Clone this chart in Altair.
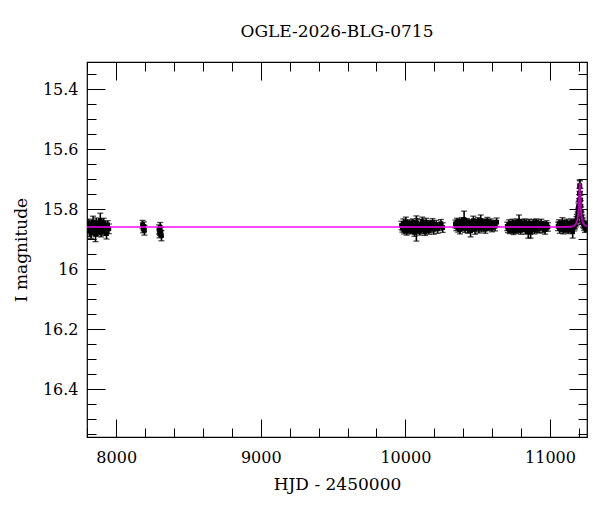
import altair as alt
import pandas as pd

# ---- photometry, one list per observing season (HJD-2450000, I mag, error) ----
S1_T = [7806, 7811, 7815, 7820, 7826, 7831, 7835, 7840, 7846, 7851, 7857, 7862, 7868,
        7873, 7879, 7884, 7890, 7896, 7901, 7907, 7913, 7919, 7926, 7933, 7941, 7949]
S1_M = [15.862, 15.848, 15.874, 15.858, 15.881, 15.852, 15.866, 15.843, 15.870, 15.857,
        15.885, 15.846, 15.864, 15.875, 15.851, 15.868, 15.838, 15.878, 15.856, 15.869,
        15.847, 15.873, 15.860, 15.882, 15.853, 15.866]
S1_E = [0.016, 0.014, 0.018, 0.015, 0.017, 0.013, 0.016, 0.019, 0.015, 0.014, 0.024, 0.016,
        0.018, 0.015, 0.014, 0.016, 0.024, 0.015, 0.018, 0.014, 0.016, 0.015, 0.017, 0.018,
        0.014, 0.016]

S2_T = [8182, 8187, 8191, 8195]
S2_M = [15.852, 15.866, 15.858, 15.871]
S2_E = [0.014, 0.013, 0.015, 0.016]

S3_T = [8296, 8300, 8304, 8309, 8313]
S3_M = [15.868, 15.882, 15.861, 15.876, 15.889]
S3_E = [0.015, 0.014, 0.016, 0.015, 0.017]

S4_T = [9973, 9979, 9986, 9991, 9998, 10003, 10009, 10016, 10021, 10027,
        10034, 10039, 10045, 10052, 10057, 10063, 10070, 10076, 10081, 10088,
        10094, 10099, 10106, 10112, 10117, 10124, 10130, 10136, 10143, 10149,
        10155, 10162, 10168, 10175, 10181, 10188, 10196, 10204, 10213, 10223,
        10234, 10246, 10258]
S4_M = [15.855, 15.864, 15.848, 15.871, 15.859, 15.843, 15.874, 15.856, 15.866, 15.850,
        15.870, 15.858, 15.867, 15.845, 15.861, 15.878, 15.853, 15.865, 15.847, 15.869,
        15.857, 15.873, 15.851, 15.863, 15.842, 15.868, 15.859, 15.875, 15.846, 15.865,
        15.854, 15.871, 15.852, 15.863, 15.857, 15.845, 15.868, 15.860, 15.852, 15.866,
        15.858, 15.849, 15.862]
S4_E = [0.014, 0.013, 0.015, 0.012, 0.014, 0.016, 0.013, 0.015, 0.012, 0.014,
        0.013, 0.016, 0.014, 0.012, 0.015, 0.013, 0.014, 0.042, 0.015, 0.013,
        0.012, 0.014, 0.016, 0.013, 0.015, 0.014, 0.012, 0.013, 0.015, 0.014,
        0.016, 0.013, 0.012, 0.015, 0.014, 0.013, 0.016, 0.012, 0.014, 0.015,
        0.013, 0.014, 0.016]

S5_T = [10346, 10352, 10358, 10365, 10371, 10377, 10383, 10390, 10396, 10402,
        10406, 10413, 10419, 10425, 10432, 10438, 10444, 10451, 10457, 10463,
        10470, 10476, 10482, 10489, 10495, 10501, 10508, 10514, 10521, 10527,
        10534, 10540, 10547, 10553, 10560, 10567, 10574, 10582, 10590, 10599,
        10609, 10620, 10631]
S5_M = [15.850, 15.858, 15.843, 15.862, 15.847, 15.869, 15.853, 15.841, 15.860, 15.849,
        15.835, 15.864, 15.852, 15.844, 15.866, 15.855, 15.848, 15.872, 15.851, 15.861,
        15.839, 15.856, 15.868, 15.846, 15.859, 15.842, 15.865, 15.853, 15.838, 15.862,
        15.849, 15.857, 15.845, 15.867, 15.852, 15.841, 15.860, 15.854, 15.847, 15.863,
        15.850, 15.858, 15.844]
S5_E = [0.013, 0.014, 0.012, 0.015, 0.013, 0.014, 0.016, 0.012, 0.013, 0.015,
        0.028, 0.014, 0.013, 0.012, 0.015, 0.014, 0.013, 0.021, 0.012, 0.014,
        0.015, 0.013, 0.016, 0.012, 0.014, 0.013, 0.015, 0.012, 0.018, 0.014,
        0.013, 0.015, 0.012, 0.014, 0.016, 0.013, 0.012, 0.015, 0.014, 0.013,
        0.012, 0.015, 0.014]

S6_T = [10704, 10710, 10716, 10723, 10729, 10735, 10741, 10748, 10754, 10760,
        10767, 10773, 10779, 10786, 10792, 10798, 10805, 10811, 10817, 10824,
        10830, 10836, 10843, 10850, 10856, 10862, 10866, 10873, 10879, 10885,
        10892, 10898, 10905, 10911, 10918, 10925, 10932, 10940, 10948, 10957,
        10966, 10976, 10986]
S6_M = [15.858, 15.866, 15.851, 15.870, 15.855, 15.862, 15.847, 15.873, 15.859, 15.852,
        15.868, 15.845, 15.863, 15.842, 15.856, 15.871, 15.850, 15.864, 15.857, 15.846,
        15.869, 15.853, 15.861, 15.876, 15.848, 15.866, 15.878, 15.855, 15.862, 15.849,
        15.870, 15.857, 15.845, 15.864, 15.852, 15.867, 15.858, 15.848, 15.863, 15.855,
        15.869, 15.851, 15.860]
S6_E = [0.014, 0.013, 0.015, 0.012, 0.014, 0.016, 0.013, 0.012, 0.015, 0.014,
        0.013, 0.012, 0.016, 0.022, 0.014, 0.013, 0.015, 0.012, 0.014, 0.013,
        0.015, 0.016, 0.012, 0.021, 0.014, 0.013, 0.019, 0.015, 0.012, 0.014,
        0.013, 0.016, 0.012, 0.014, 0.015, 0.013, 0.012, 0.014, 0.016, 0.013,
        0.015, 0.012, 0.014]

S7_T = [11056, 11062, 11068, 11074, 11080, 11086, 11092, 11098, 11104, 11110,
        11116, 11122, 11128, 11134, 11140, 11146, 11152, 11157, 11163, 11168,
        11173, 11178, 11183, 11187, 11191, 11194, 11197, 11199, 11201, 11203,
        11205, 11207, 11209, 11211, 11213, 11216, 11219, 11223, 11227, 11232,
        11237, 11242, 11247, 11252]
S7_M = [15.858, 15.849, 15.866, 15.853, 15.861, 15.845, 15.870, 15.856, 15.850, 15.864,
        15.847, 15.859, 15.868, 15.852, 15.862, 15.846, 15.857, 15.876, 15.851, 15.860,
        15.852, 15.847, 15.840, 15.832, 15.826, 15.812, 15.797, 15.790, 15.770, 15.748,
        15.722, 15.724, 15.748, 15.770, 15.790, 15.808, 15.826, 15.834, 15.845, 15.851,
        15.857, 15.862, 15.855, 15.860]
S7_E = [0.014, 0.013, 0.015, 0.012, 0.014, 0.016, 0.013, 0.015, 0.012, 0.014,
        0.013, 0.016, 0.014, 0.012, 0.015, 0.013, 0.014, 0.021, 0.015, 0.013,
        0.014, 0.013, 0.015, 0.014, 0.016, 0.015, 0.017, 0.016, 0.018, 0.017,
        0.019, 0.018, 0.017, 0.016, 0.018, 0.015, 0.016, 0.014, 0.015, 0.013,
        0.014, 0.016, 0.013, 0.015]

# ---- microlensing model curve ----
MODEL_T = [7798, 11100, 11150, 11170, 11182, 11190, 11195, 11198, 11200, 11202, 11204,
           11206, 11208, 11210, 11212, 11214, 11217, 11222, 11230, 11242, 11256]
MODEL_M = [15.860, 15.860, 15.859, 15.855, 15.848, 15.836, 15.820, 15.803, 15.785, 15.763,
           15.735, 15.713, 15.735, 15.763, 15.785, 15.803, 15.820, 15.836, 15.848, 15.855,
           15.858]

# ---- axes ----
X_DOMAIN = [7798, 11256]
Y_DOMAIN = [15.31, 16.56]
X_MAJOR = [8000, 9000, 10000, 11000]
X_MINOR = [7800, 8000, 8200, 8400, 8600, 8800, 9000, 9200, 9400, 9600, 9800, 10000,
           10200, 10400, 10600, 10800, 11000, 11200]
Y_MAJOR = [15.4, 15.6, 15.8, 16.0, 16.2, 16.4]
Y_MINOR = [15.35, 15.4, 15.45, 15.5, 15.55, 15.6, 15.65, 15.7, 15.75, 15.8, 15.85, 15.9,
           15.95, 16.0, 16.05, 16.1, 16.15, 16.2, 16.25, 16.3, 16.35, 16.4, 16.45, 16.5,
           16.55]

FONT = "DejaVu Serif"

rows = []
for ts, ms, es in [(S1_T, S1_M, S1_E), (S2_T, S2_M, S2_E), (S3_T, S3_M, S3_E),
                   (S4_T, S4_M, S4_E), (S5_T, S5_M, S5_E), (S6_T, S6_M, S6_E),
                   (S7_T, S7_M, S7_E)]:
    assert len(ts) == len(ms) == len(es)
    for t, m, e in zip(ts, ms, es):
        rows.append({"t": t, "mag": m, "err": e})
df = pd.DataFrame(rows)
model = pd.DataFrame({"t": MODEL_T, "mag": MODEL_M})

xs = alt.Scale(domain=X_DOMAIN, nice=False, zero=False)
ys = alt.Scale(domain=Y_DOMAIN, nice=False, zero=False, reverse=True)


def axis(orient, values, size, labels=False, title=None, fmt=None):
    kw = dict(orient=orient, values=values, tickSize=size, offset=-size,
              domain=False, grid=False, ticks=True, tickColor="black",
              tickWidth=1, labels=labels, title=title)
    if labels:
        kw.update(labelFont=FONT, labelFontSize=16, labelColor="black",
                  labelPadding=12 if orient == "bottom" else 9, format=fmt)
    if title:
        kw.update(titleFont=FONT, titleFontSize=17, titleFontWeight="normal",
                  titleColor="black", titlePadding=11 if orient == "bottom" else 12)
    return alt.Axis(**kw)


base = alt.Chart(df).transform_calculate(
    lo="datum.mag - datum.err", hi="datum.mag + datum.err")

bars = base.mark_rule(color="black", strokeWidth=1.6, clip=True).encode(
    x=alt.X("t:Q", scale=xs,
            axis=axis("bottom", X_MAJOR, 18, labels=True, title="HJD - 2450000", fmt="d")),
    y=alt.Y("lo:Q", scale=ys,
            axis=axis("left", Y_MAJOR, 18, labels=True, title="I magnitude", fmt="~g")),
    y2="hi:Q",
)

caps_lo = base.mark_tick(orient="horizontal", color="black", thickness=1.3, size=6,
                         clip=True).encode(
    x=alt.X("t:Q", scale=xs, axis=axis("bottom", X_MINOR, 9)),
    y=alt.Y("lo:Q", scale=ys, axis=axis("left", Y_MINOR, 9)),
)

caps_hi = base.mark_tick(orient="horizontal", color="black", thickness=1.3, size=6,
                         clip=True).encode(
    x=alt.X("t:Q", scale=xs, axis=axis("top", X_MAJOR, 18)),
    y=alt.Y("hi:Q", scale=ys, axis=axis("right", Y_MAJOR, 18)),
)

points = base.mark_square(color="black", size=22, opacity=1, clip=True).encode(
    x=alt.X("t:Q", scale=xs, axis=axis("top", X_MINOR, 9)),
    y=alt.Y("mag:Q", scale=ys, axis=axis("right", Y_MINOR, 9)),
)

line = alt.Chart(model).mark_line(color="#ff00ff", strokeWidth=2, opacity=0.72,
                                  clip=True).encode(
    x=alt.X("t:Q", scale=xs, axis=None),
    y=alt.Y("mag:Q", scale=ys, axis=None),
)

chart = alt.layer(bars, caps_lo, caps_hi, points, line).resolve_scale(
    x="independent", y="independent"
).properties(
    width=500,
    height=375,
    autosize=alt.AutoSizeParams(type="none"),
    padding={"left": 79, "top": 54, "right": 5, "bottom": 67},
    title=alt.TitleParams("OGLE-2026-BLG-0715", font=FONT, fontSize=17,
                          fontWeight="normal", color="black", anchor="middle",
                          frame="group", offset=21),
).configure_view(stroke="black", strokeWidth=1.2)

chart.save("out.html", embed_options={"renderer": "svg", "actions": False})
